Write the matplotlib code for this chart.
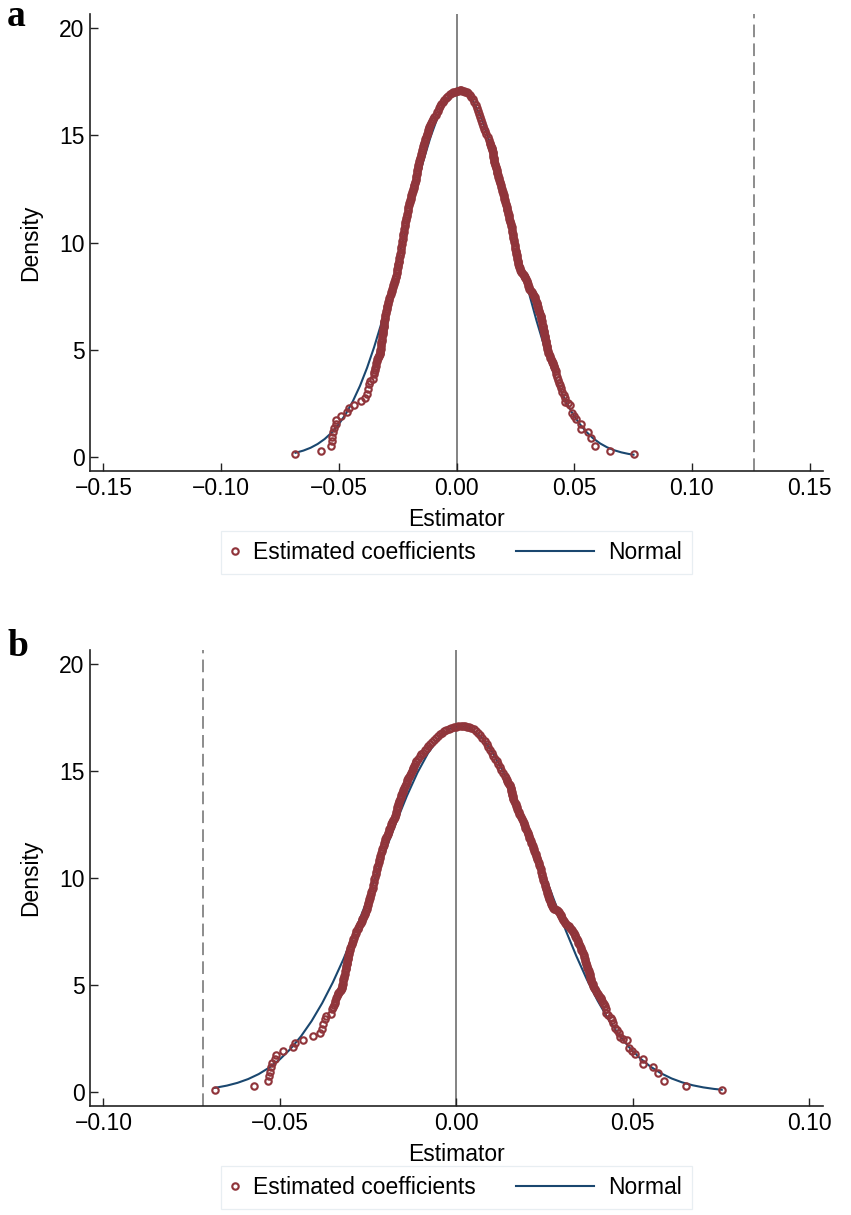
import numpy as np
import matplotlib
matplotlib.use("Agg")
import matplotlib.pyplot as plt
from matplotlib.legend_handler import HandlerLine2D

plt.rcParams['font.family'] = ['Liberation Sans', 'DejaVu Sans']

# kernel density of the estimated coefficients (same draws in both panels),
# read off the figure region by region
left_tail_x = [-0.0684, -0.0574, -0.0533, -0.0531, -0.0528, -0.0525, -0.0521, -0.0514, -0.0511, -0.0492,
               -0.0464, -0.0457, -0.0434, -0.0407, -0.0387, -0.0382, -0.0377, -0.0373, -0.0368, -0.0354]
left_tail_y = [0.12, 0.30, 0.51, 0.75, 0.95, 1.17, 1.37, 1.53, 1.73, 1.92,
               2.10, 2.27, 2.41, 2.60, 2.76, 2.93, 3.16, 3.40, 3.55, 3.66]

left_flank_x = [
    -0.0351, -0.0349, -0.0347, -0.0345, -0.0343, -0.0340, -0.0338, -0.0336, -0.0334, -0.0332,
    -0.0330, -0.0328, -0.0327, -0.0325, -0.0324, -0.0323, -0.0322, -0.0321, -0.0320, -0.0319,
    -0.0317, -0.0316, -0.0315, -0.0314, -0.0313, -0.0312, -0.0311, -0.0310, -0.0309, -0.0308,
    -0.0307, -0.0306, -0.0305, -0.0303, -0.0302, -0.0300, -0.0299, -0.0297, -0.0296, -0.0294,
    -0.0292, -0.0290, -0.0288, -0.0285, -0.0283, -0.0280, -0.0278, -0.0275, -0.0273, -0.0270,
    -0.0268, -0.0266, -0.0264, -0.0262, -0.0260, -0.0258, -0.0256, -0.0254, -0.0253, -0.0251,
    -0.0250, -0.0248, -0.0247, -0.0246, -0.0245, -0.0243, -0.0241, -0.0239, -0.0237, -0.0235,
    -0.0234, -0.0232, -0.0231, -0.0229, -0.0228, -0.0226, -0.0224, -0.0222, -0.0220, -0.0218,
    -0.0217, -0.0215, -0.0213, -0.0211, -0.0210, -0.0208, -0.0206, -0.0204, -0.0203, -0.0201,
    -0.0199, -0.0197, -0.0195, -0.0193, -0.0192, -0.0190, -0.0188, -0.0186, -0.0184, -0.0182,
    -0.0181, -0.0179, -0.0177, -0.0175, -0.0174, -0.0172, -0.0171, -0.0169, -0.0168, -0.0166,
    -0.0165, -0.0163, -0.0162, -0.0160, -0.0158, -0.0156, -0.0154, -0.0152, -0.0150, -0.0148,
    -0.0146, -0.0143, -0.0141, -0.0139, -0.0137, -0.0134, -0.0132, -0.0129, -0.0127, -0.0124,
    -0.0122, -0.0120, -0.0118, -0.0115, -0.0113,
]
left_flank_y = [
    3.86, 3.96, 4.07, 4.16, 4.25, 4.38, 4.49, 4.56, 4.62, 4.67,
    4.72, 4.77, 4.82, 4.87, 4.91, 4.98, 5.05, 5.19, 5.27, 5.35,
    5.43, 5.50, 5.65, 5.73, 5.81, 5.89, 5.96, 6.04, 6.12, 6.20,
    6.28, 6.36, 6.43, 6.53, 6.62, 6.72, 6.82, 6.90, 6.98, 7.06,
    7.13, 7.22, 7.32, 7.42, 7.52, 7.60, 7.68, 7.76, 7.83, 7.92,
    8.00, 8.08, 8.15, 8.22, 8.30, 8.38, 8.46, 8.56, 8.65, 8.75,
    8.85, 8.93, 9.00, 9.08, 9.16, 9.26, 9.35, 9.45, 9.55, 9.68,
    9.80, 9.93, 10.05, 10.18, 10.30, 10.40, 10.50, 10.63, 10.75, 10.85,
    10.95, 11.05, 11.15, 11.25, 11.35, 11.45, 11.55, 11.64, 11.73, 11.82,
    11.90, 11.98, 12.05, 12.12, 12.20, 12.28, 12.35, 12.42, 12.50, 12.56,
    12.62, 12.69, 12.76, 12.83, 12.90, 13.00, 13.10, 13.20, 13.30, 13.38,
    13.45, 13.53, 13.60, 13.69, 13.78, 13.87, 13.95, 14.04, 14.12, 14.21,
    14.30, 14.39, 14.48, 14.57, 14.65, 14.74, 14.82, 14.91, 15.00, 15.08,
    15.15, 15.24, 15.32, 15.40, 15.47,
]

peak_x = [
    -0.0108, -0.0104, -0.0099, -0.0094, -0.0089, -0.0084, -0.0080, -0.0075, -0.0070, -0.0064,
    -0.0058, -0.0052, -0.0046, -0.0040, -0.0034, -0.0028, -0.0021, -0.0014, -0.0007, 0.0000,
    0.0006, 0.0013, 0.0019, 0.0025, 0.0031, 0.0037, 0.0043, 0.0049, 0.0056, 0.0062,
    0.0068, 0.0074, 0.0081, 0.0086, 0.0091, 0.0096, 0.0100, 0.0105, 0.0109, 0.0114,
    0.0118, 0.0123, 0.0127, 0.0132, 0.0137,
]
peak_y = [
    15.58, 15.68, 15.77, 15.86, 15.96, 16.06, 16.15, 16.25, 16.34, 16.44,
    16.54, 16.64, 16.72, 16.79, 16.85, 16.90, 16.95, 17.00, 17.03, 17.06,
    17.08, 17.10, 17.10, 17.08, 17.06, 17.03, 17.00, 16.95, 16.87, 16.79,
    16.67, 16.55, 16.40, 16.26, 16.12, 15.99, 15.86, 15.72, 15.58, 15.45,
    15.31, 15.18, 15.04, 14.90, 14.77,
]

right_flank_x = [
    0.0141, 0.0143, 0.0145, 0.0147, 0.0149, 0.0151, 0.0152, 0.0154, 0.0155, 0.0156,
    0.0157, 0.0158, 0.0159, 0.0160, 0.0161, 0.0162, 0.0164, 0.0166, 0.0168, 0.0170,
    0.0171, 0.0173, 0.0175, 0.0177, 0.0179, 0.0181, 0.0184, 0.0186, 0.0189, 0.0191,
    0.0193, 0.0195, 0.0196, 0.0198, 0.0200, 0.0202, 0.0203, 0.0205, 0.0207, 0.0209,
    0.0211, 0.0213, 0.0214, 0.0216, 0.0218, 0.0220, 0.0221, 0.0223, 0.0225, 0.0227,
    0.0228, 0.0230, 0.0232, 0.0234, 0.0235, 0.0237, 0.0239, 0.0241, 0.0242, 0.0244,
    0.0246, 0.0247, 0.0248, 0.0250, 0.0251, 0.0253, 0.0254, 0.0256, 0.0257, 0.0259,
    0.0260, 0.0262, 0.0263, 0.0265, 0.0267, 0.0269, 0.0270, 0.0272, 0.0274, 0.0278,
    0.0281, 0.0285, 0.0288, 0.0291, 0.0293, 0.0296, 0.0298, 0.0300, 0.0302, 0.0305,
    0.0307, 0.0310, 0.0314, 0.0318, 0.0322, 0.0325, 0.0327, 0.0330, 0.0333, 0.0335,
    0.0337, 0.0340, 0.0342, 0.0344, 0.0346, 0.0348, 0.0350, 0.0352, 0.0354, 0.0357,
    0.0359, 0.0361, 0.0362, 0.0364, 0.0366, 0.0367, 0.0368, 0.0370, 0.0371, 0.0373,
    0.0375, 0.0377, 0.0378, 0.0379, 0.0380, 0.0382, 0.0383, 0.0385, 0.0386, 0.0388,
    0.0390, 0.0393, 0.0396, 0.0399, 0.0402, 0.0404, 0.0406, 0.0409, 0.0411, 0.0414,
    0.0416, 0.0419, 0.0421, 0.0423, 0.0425, 0.0431, 0.0437,
]
right_flank_y = [
    14.65, 14.58, 14.52, 14.46, 14.40, 14.35, 14.30, 14.22, 14.15, 14.08,
    14.00, 13.94, 13.88, 13.81, 13.75, 13.68, 13.60, 13.52, 13.45, 13.37,
    13.30, 13.22, 13.13, 13.06, 13.00, 12.93, 12.83, 12.75, 12.66, 12.58,
    12.50, 12.42, 12.35, 12.28, 12.20, 12.12, 12.04, 11.96, 11.88, 11.80,
    11.73, 11.65, 11.58, 11.50, 11.42, 11.34, 11.26, 11.18, 11.10, 11.02,
    10.95, 10.87, 10.79, 10.70, 10.60, 10.50, 10.40, 10.30, 10.20, 10.10,
    10.01, 9.90, 9.80, 9.71, 9.62, 9.54, 9.47, 9.40, 9.32, 9.24,
    9.16, 9.08, 9.00, 8.92, 8.85, 8.79, 8.73, 8.67, 8.61, 8.57,
    8.53, 8.50, 8.46, 8.40, 8.34, 8.28, 8.22, 8.14, 8.06, 7.98,
    7.91, 7.85, 7.80, 7.74, 7.68, 7.62, 7.56, 7.50, 7.44, 7.36,
    7.28, 7.20, 7.13, 7.05, 6.98, 6.90, 6.82, 6.74, 6.66, 6.58,
    6.51, 6.42, 6.32, 6.22, 6.12, 6.04, 5.96, 5.88, 5.81, 5.73,
    5.66, 5.58, 5.50, 5.42, 5.35, 5.27, 5.19, 5.11, 5.03, 4.95,
    4.87, 4.80, 4.72, 4.64, 4.56, 4.50, 4.45, 4.39, 4.33, 4.25,
    4.18, 4.10, 4.02, 3.86, 3.71, 3.59, 3.47,
]

right_tail_x = [0.0441, 0.0444, 0.0449, 0.0455, 0.0461, 0.0463, 0.0473, 0.0484, 0.0490, 0.0498,
                0.0506, 0.0529, 0.0530, 0.0558, 0.0572, 0.0588, 0.0650, 0.0752]
right_tail_y = [3.35, 3.24, 3.01, 2.89, 2.77, 2.57, 2.50, 2.41, 2.07, 1.92,
                1.76, 1.53, 1.32, 1.17, 0.90, 0.51, 0.28, 0.12]

coef_x = left_tail_x + left_flank_x + peak_x + right_flank_x + right_tail_x
coef_y = left_tail_y + left_flank_y + peak_y + right_flank_y + right_tail_y

# normal reference curve
normal_x = [
    -0.0684, -0.065, -0.062, -0.059, -0.056, -0.053, -0.050, -0.047, -0.044, -0.041,
    -0.038, -0.035, -0.032, -0.029, -0.026, -0.023, -0.020, -0.017, -0.014, -0.011,
    -0.008, -0.005, -0.002, 0.001, 0.004, 0.007, 0.010, 0.013, 0.016, 0.019,
    0.022, 0.025, 0.028, 0.031, 0.034, 0.037, 0.040, 0.043, 0.046, 0.049,
    0.052, 0.055, 0.058, 0.061, 0.064, 0.067, 0.070, 0.073, 0.0752,
]
normal_y = [
    0.198, 0.303, 0.432, 0.608, 0.841, 1.144, 1.531, 2.015, 2.609, 3.320,
    4.158, 5.121, 6.203, 7.391, 8.661, 9.983, 11.318, 12.619, 13.838, 14.927,
    15.836, 16.524, 16.959, 17.120, 16.997, 16.598, 15.942, 15.059, 13.992, 12.787,
    11.494, 10.161, 8.836, 7.557, 6.357, 5.259, 4.280, 3.424, 2.696, 2.087,
    1.590, 1.191, 0.877, 0.636, 0.453, 0.317, 0.219, 0.148, 0.110,
]

# actual estimate of each panel (dashed line)
panel_labels = ['a', 'b']
actual_estimate = [0.1265, -0.0719]
x_ticks = [[-0.15, -0.10, -0.05, 0.00, 0.05, 0.10, 0.15],
           [-0.10, -0.05, 0.00, 0.05, 0.10]]
x_limits = [(-0.1557, 0.1557), (-0.1038, 0.1039)]
y_ticks = [0, 5, 10, 15, 20]

MAROON = '#90353b'
NAVY = '#1a476f'


class LongLineHandler(HandlerLine2D):
    # legend line drawn leftwards, longer than the (short) handle box
    def get_xdata(self, legend, xdescent, ydescent, width, height, fontsize):
        x1 = -xdescent + width
        x0 = x1 - 3.4 * fontsize
        return np.array([x0, x1]), np.array([x0, x1])


fig = plt.figure(figsize=(8.51, 12.15), dpi=100)
W, H = 851, 1215
axes_px = [(90, 14, 823, 471), (90, 650, 823, 1106)]
label_base = [26, 656]

for i, (l, t, r, b) in enumerate(axes_px):
    ax = fig.add_axes([l / W, 1 - b / H, (r - l) / W, (b - t) / H])

    ax.axvline(0, color='#7a7a7a', lw=1.3, zorder=1)
    ax.axvline(actual_estimate[i], color='#8c8c8c', lw=1.4, dashes=(6.5, 3.2), zorder=1)
    pts, = ax.plot(coef_x, coef_y, 'o', ms=4.6, mfc='none', mec=MAROON, mew=1.55,
                   zorder=3, label='Estimated coefficients')
    nrm, = ax.plot(normal_x, normal_y, color=NAVY, lw=1.5, zorder=2,
                   solid_joinstyle='round', label='Normal')

    ax.set_xlim(*x_limits[i])
    ax.set_ylim(-0.65, 20.65)
    ax.set_xticks(x_ticks[i])
    ax.set_xticklabels([f'{v:.2f}'.replace('-', '\u2212') for v in x_ticks[i]])
    ax.set_yticks(y_ticks)
    ax.tick_params(direction='in', length=6, width=1.0, labelsize=16.5, colors='#222222',
                   labelcolor='black', pad=4)
    for s in ['top', 'right']:
        ax.spines[s].set_visible(False)
    for s in ['left', 'bottom']:
        ax.spines[s].set_linewidth(1.2)
        ax.spines[s].set_color('#222222')

    ax.set_xlabel('Estimator', fontsize=16.5, labelpad=6)
    ax.set_ylabel('Density', fontsize=16.5, labelpad=12)

    leg = ax.legend(handles=[pts, nrm], loc='upper center', bbox_to_anchor=(0.5, -0.131),
                    borderaxespad=0, ncol=2, fontsize=16.5, frameon=True, fancybox=False,
                    handlelength=0.35, handletextpad=0.6, columnspacing=4.8,
                    borderpad=0.45, numpoints=1,
                    handler_map={nrm: LongLineHandler()})
    leg.get_frame().set_edgecolor('#e3eaef')
    leg.get_frame().set_linewidth(0.9)

    fig.text(7 / W, 1 - label_base[i] / H, panel_labels[i], fontsize=27,
             fontweight='bold', family=['Liberation Serif', 'DejaVu Serif'],
             va='baseline', ha='left')

fig.savefig('out.png', dpi=100)
